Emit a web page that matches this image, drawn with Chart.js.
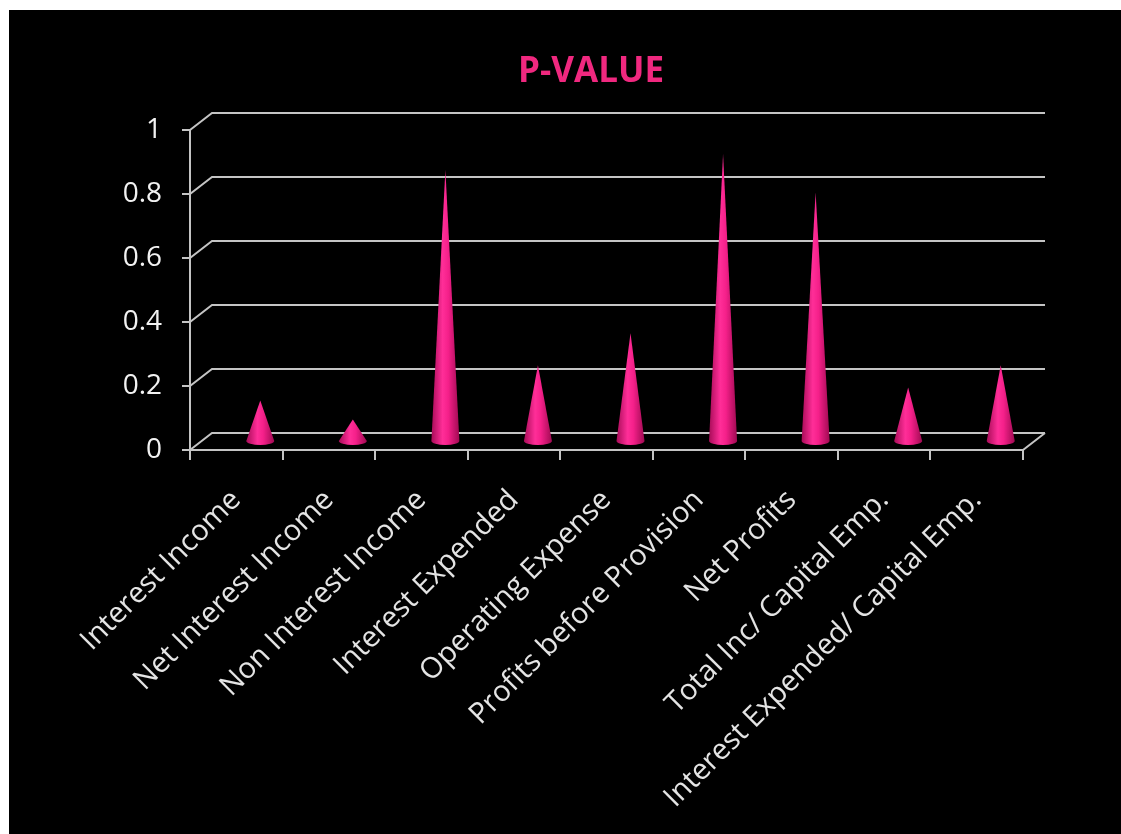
<!DOCTYPE html>
<html lang="en">
<head>
    <meta charset="UTF-8">
    <title>P-Value</title>
    <style>
    body{
        margin: 0;
        background-color: #fff;
    }
    .chartBox{
        position: absolute;
        left: 9px;
        top: 10px;
        width: 1112px;
        height: 824px;
        background-color: #000;
    }
    .chartInner{
        position: absolute;
        left: 52px;
        top: 0;
        width: 1060px;
        height: 824px;
    }
    </style>
</head>
<body>

    <div class="chartBox">
        <div class="chartInner">
            <canvas id="myChart"></canvas>
        </div>
    </div>

    <script src="https://cdn.jsdelivr.net/npm/chart.js@4/dist/chart.umd.min.js"></script>

    <script>
        // Data
        const categories = [
            'Interest Income',
            'Net Interest Income',
            'Non Interest Income',
            'Interest Expended',
            'Operating Expense',
            'Profits before Provision',
            'Net Profits',
            'Total Inc/ Capital Emp.',
            'Interest Expended/ Capital Emp.'
        ];
        const pValues = [0.13, 0.07, 0.85, 0.24, 0.34, 0.90, 0.78, 0.17, 0.24];
        const yTickLabels = ['0', '0.2', '0.4', '0.6', '0.8', '1'];

        const gridGrey = '#c4c4c4';
        const depthX = 22;
        const depthY = -17;

        // back wall + floor, drawn behind the cones
        const backWall = {
            id: 'backWall',
            beforeDatasetsDraw(chart){
                const ctx = chart.ctx;
                const xs = chart.scales.x;
                const ys = chart.scales.y;
                ctx.save();
                ctx.strokeStyle = gridGrey;
                ctx.lineWidth = 2;
                ctx.beginPath();
                ys.ticks.forEach(t => {
                    const py = ys.getPixelForValue(t.value);
                    ctx.moveTo(xs.left, py);
                    ctx.lineTo(xs.left + depthX, py + depthY);
                    ctx.lineTo(xs.right + depthX, py + depthY);
                });
                ctx.moveTo(xs.right, ys.bottom);
                ctx.lineTo(xs.right + depthX, ys.bottom + depthY);
                ctx.stroke();
                ctx.restore();
            }
        };

        // each bar is drawn as a cone
        const cones = {
            id: 'cones',
            afterDatasetsDraw(chart){
                const ctx = chart.ctx;
                const meta = chart.getDatasetMeta(0);
                meta.data.forEach(bar => {
                    const cx = bar.x + 24;
                    const base = bar.base - 8;
                    const tip = bar.y - 8;
                    const r = 14;
                    const ry = 4;
                    const grad = ctx.createLinearGradient(cx - r, 0, cx + r, 0);
                    grad.addColorStop(0, '#a80c58');
                    grad.addColorStop(0.4, '#ff2e98');
                    grad.addColorStop(0.6, '#f5208a');
                    grad.addColorStop(1, '#a00a52');
                    ctx.save();
                    ctx.fillStyle = grad;
                    ctx.beginPath();
                    ctx.moveTo(cx, tip);
                    ctx.lineTo(cx - r, base);
                    ctx.ellipse(cx, base, r, ry, 0, Math.PI, 0, true);
                    ctx.closePath();
                    ctx.fill();
                    ctx.restore();
                });
            }
        };

        let data = {
            labels: categories,
            datasets: [{
                label: 'P-Value',
                data: pValues,
                backgroundColor: 'rgba(0,0,0,0)',
                borderWidth: 0
            }]
        };

        let config = {
            type: 'bar',
            data,
            options: {
                responsive: true,
                maintainAspectRatio: false,
                animation: false,
                scales: {
                    x: {
                        afterFit: (scale) => {
                            scale.height = 384;
                            scale.paddingLeft = 0;
                            scale.paddingRight = 0;
                        },
                        grid: {
                            offset: true,
                            drawOnChartArea: false,
                            color: gridGrey,
                            lineWidth: 2,
                            tickLength: 10
                        },
                        border: { color: gridGrey, width: 2 },
                        ticks: {
                            autoSkip: false,
                            minRotation: 45,
                            maxRotation: 45,
                            padding: 23,
                            color: '#e4e4e4',
                            font: { family: 'Open Sans', size: 29 }
                        }
                    },
                    y: {
                        min: 0,
                        max: 1,
                        afterFit: (scale) => { scale.width = 129; },
                        grid: {
                            drawOnChartArea: false,
                            color: gridGrey,
                            lineWidth: 2,
                            tickLength: 8
                        },
                        border: { color: gridGrey, width: 2 },
                        ticks: {
                            stepSize: 0.2,
                            padding: 20,
                            color: '#f2f2f2',
                            font: { family: 'Open Sans', size: 28 },
                            callback: (v, i) => yTickLabels[i]
                        }
                    },
                    // empty box on the right, room for the back wall depth
                    yRight: {
                        position: 'right',
                        afterFit: (scale) => { scale.width = 98; },
                        grid: { display: false },
                        border: { display: false },
                        ticks: { display: false }
                    }
                },
                plugins: {
                    legend: { display: false },
                    tooltip: { enabled: false },
                    title: {
                        display: true,
                        text: 'P-VALUE',
                        color: '#f0287f',
                        font: { family: 'Open Sans', size: 35, weight: 'bold' },
                        padding: { top: 41, bottom: 37 }
                    }
                }
            },
            plugins: [backWall, cones]
        };

        const myChart = new Chart(
            document.getElementById('myChart'), config
        );
    </script>
</body>
</html>
